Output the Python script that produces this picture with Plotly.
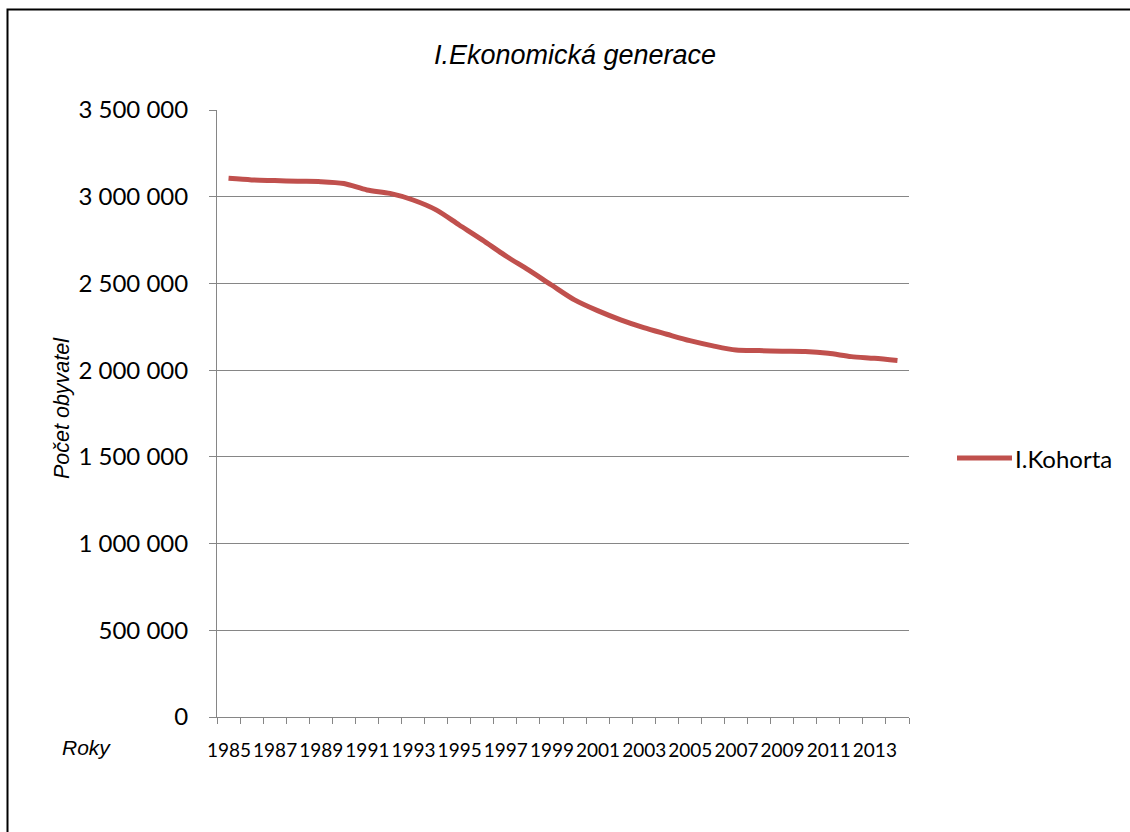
import plotly.graph_objects as go

# Population of the first economic cohort by year
years = list(range(1985, 2015))
population = [
    3106000, 3097000, 3093000, 3089000, 3087000, 3076000, 3039000, 3019000,
    2981000, 2924000, 2837000, 2751000, 2660000, 2578000, 2491000, 2405000,
    2343000, 2290000, 2245000, 2207000, 2170000, 2140000, 2116000, 2113000,
    2109000, 2107000, 2097000, 2078000, 2068000, 2055000,
]
series_name = "I.Kohorta"

W, H = 1130, 832
PL, PR, PT, PB = 217, 909, 110, 717  # plot area in pixels
pw, ph = PR - PL, PB - PT
cat_px = pw / len(years)


def px_x(x):
    return (x - PL) / pw


def px_y(y):
    return (PB - y) / ph


GRID = "#868686"
RED = "#C0504D"
LABEL_FONT = "Lato, 'Open Sans', sans-serif"
ARIAL = "'Liberation Sans', Arial, sans-serif"

# Ticks sit between categories; every other year is labelled, shifted to the category centre
boundaries = [y - 0.5 for y in years] + [years[-1] + 0.5]
boundary_text = [str(y) if i % 2 == 0 else "" for i, y in enumerate(years)] + [""]

fig = go.Figure()
fig.add_trace(go.Scatter(
    x=years, y=population, mode="lines", name=series_name,
    line=dict(color=RED, width=5, shape="spline", smoothing=0.8),
    showlegend=False,
))

fig.update_layout(
    width=W, height=H,
    margin=dict(l=PL, r=W - PR, t=PT, b=H - PB, pad=0),
    paper_bgcolor="white", plot_bgcolor="white",
    separators=", ",
    title=dict(
        text="<i>I.Ekonomická generace</i>",
        font=dict(family=ARIAL, size=27, color="black"),
        x=575 / W, xanchor="center", xref="container",
        y=1 - 55 / H, yanchor="middle", yref="container",
    ),
    xaxis=dict(
        range=[1984.5, 2014.5],
        tickmode="array", tickvals=boundaries, ticktext=boundary_text,
        ticklabelshift=int(round(cat_px / 2)), ticklabelstandoff=10,
        tickangle=0,
        tickfont=dict(family=LABEL_FONT, size=19, color="black"),
        ticks="outside", ticklen=6, tickcolor=GRID, tickwidth=1,
        showgrid=False, zeroline=False,
        showline=True, linecolor=GRID, linewidth=1,
    ),
    yaxis=dict(
        range=[0, 3500000], dtick=500000, tick0=0, tickformat=",d",
        ticks="outside", ticklen=7, tickcolor=GRID, tickwidth=1,
        showgrid=True, gridcolor=GRID, gridwidth=1, zeroline=False,
        showline=True, linecolor=GRID, linewidth=1,
        tickfont=dict(family=LABEL_FONT, size=24, color="black"),
        ticklabelstandoff=16,
    ),
)

# Axis captions
fig.add_annotation(
    text="<i>Počet obyvatel</i>", textangle=-90,
    x=px_x(62), y=px_y(408), xref="paper", yref="paper",
    xanchor="center", yanchor="middle", showarrow=False,
    font=dict(family=ARIAL, size=21.5, color="black"),
)
fig.add_annotation(
    text="<i>Roky</i>",
    x=px_x(86), y=px_y(747), xref="paper", yref="paper",
    xanchor="center", yanchor="middle", showarrow=False,
    font=dict(family=ARIAL, size=21, color="black"),
)

# Legend: line sample and series name on the right
fig.add_shape(
    type="line", xref="paper", yref="paper",
    x0=px_x(957), x1=px_x(1012), y0=px_y(458), y1=px_y(458),
    line=dict(color=RED, width=5),
)
fig.add_annotation(
    text=series_name, x=px_x(1013), y=px_y(458), xref="paper", yref="paper",
    xanchor="left", yanchor="middle", showarrow=False,
    font=dict(family=LABEL_FONT, size=24, color="black"),
)

# Chart area frame
fig.add_shape(
    type="rect", xref="paper", yref="paper",
    x0=px_x(7.5), x1=px_x(W + 20), y0=px_y(H + 20), y1=px_y(9.5),
    line=dict(color="black", width=2), fillcolor="rgba(0,0,0,0)",
    layer="below",
)

fig.write_html("out.html")
